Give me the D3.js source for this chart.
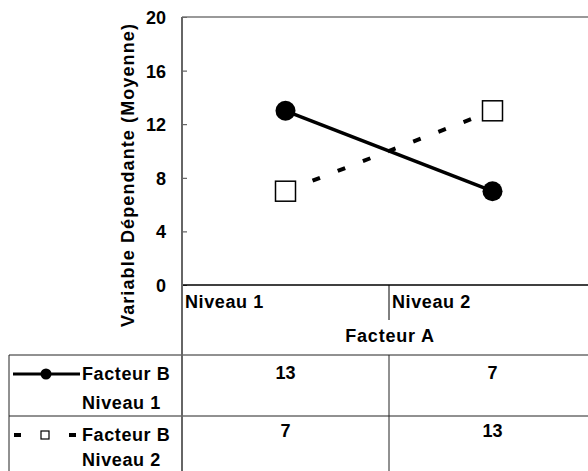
<!DOCTYPE html>
<html><head><meta charset="utf-8">
<script src="https://cdn.jsdelivr.net/npm/d3@7"></script>
<style>
html,body{margin:0;padding:0;background:#fff;}
svg{display:block;}
text{font-family:"Liberation Sans",Arial,sans-serif;font-weight:bold;fill:#000;}
</style></head>
<body>
<svg id="c" width="588" height="471"></svg>
<script>
const categories = ["Niveau 1", "Niveau 2"];
const seriesNames = ["Facteur B\nNiveau 1", "Facteur B\nNiveau 2"];
const serie1 = [13, 7];
const serie2 = [7, 13];
const yTicks = [0, 4, 8, 12, 16, 20];
const xTitle = "Facteur A";
const yTitle = "Variable Dépendante (Moyenne)";

const FS = 18;
const svg = d3.select("#c");
const L = 182, T = 17, B = 285, R = 596;
const x = d3.scaleBand().domain(categories).range([L, R]);
const y = d3.scaleLinear().domain([0, 20]).range([B, T]);
const cx = d => x(d) + x.bandwidth() / 2;

// y axis
const yAxis = d3.axisLeft(y).tickValues(yTicks).tickSize(-5).tickPadding(16).tickFormat(d3.format("d"));
const gy = svg.append("g").attr("transform", `translate(${L},0)`).call(yAxis);
gy.select(".domain").remove();
gy.selectAll(".tick line").attr("stroke", "#444").attr("stroke-width", 1);
gy.selectAll(".tick text").attr("font-size", FS).attr("font-family", "Liberation Sans, Arial, sans-serif")
  .attr("font-weight", "bold").attr("fill", "#000").attr("x", -16).attr("dy", "0.36em");

// frame lines
svg.append("line").attr("x1", L).attr("x2", 588).attr("y1", T).attr("y2", T).attr("stroke", "#777").attr("stroke-width", 1.5);
svg.append("line").attr("x1", L).attr("x2", 588).attr("y1", B).attr("y2", B).attr("stroke", "#000").attr("stroke-width", 1.5);
svg.append("line").attr("x1", x(categories[1])).attr("x2", x(categories[1])).attr("y1", B).attr("y2", 320).attr("stroke", "#000").attr("stroke-width", 1);

// y title
svg.append("text").attr("transform", "translate(134,175) rotate(-90)").attr("text-anchor", "middle")
  .attr("font-size", FS).style("letter-spacing", "1.1px").text(yTitle);

// category labels
svg.selectAll(".cat").data(categories).enter().append("text")
  .attr("x", d => x(d) + 3).attr("y", 308).attr("font-size", FS).style("letter-spacing", "0.6px").text(d => d);
svg.append("text").attr("x", (L + R) / 2 + 1).attr("y", 342).attr("text-anchor", "middle")
  .attr("font-size", FS).style("letter-spacing", "0.8px").text(xTitle);

// series lines
const line = d3.line().x((d, i) => cx(categories[i])).y(d => y(d));
svg.append("path").datum(serie2).attr("d", line).attr("fill", "none").attr("stroke", "#000")
  .attr("stroke-width", 4).attr("stroke-dasharray", "8,19").attr("stroke-dashoffset", -2);
svg.append("path").datum(serie1).attr("d", line).attr("fill", "none").attr("stroke", "#000").attr("stroke-width", 3.5);

svg.selectAll(".m1").data(serie1).enter().append("circle")
  .attr("cx", (d, i) => cx(categories[i])).attr("cy", d => y(d)).attr("r", 10).attr("fill", "#000");
svg.selectAll(".m2").data(serie2).enter().append("rect")
  .attr("x", (d, i) => cx(categories[i]) - 10).attr("y", d => y(d) - 10).attr("width", 20).attr("height", 20)
  .attr("fill", "#fff").attr("stroke", "#000").attr("stroke-width", 1.5);

// table grid
const tl = "#222";
svg.append("line").attr("x1", 9).attr("x2", 588).attr("y1", 355).attr("y2", 355).attr("stroke", tl).attr("stroke-width", 1);
svg.append("line").attr("x1", 9).attr("x2", 588).attr("y1", 416).attr("y2", 416).attr("stroke", tl).attr("stroke-width", 1);
svg.append("line").attr("x1", 9).attr("x2", 9).attr("y1", 355).attr("y2", 471).attr("stroke", tl).attr("stroke-width", 1);
svg.append("line").attr("x1", x(categories[1])).attr("x2", x(categories[1])).attr("y1", 355).attr("y2", 471).attr("stroke", tl).attr("stroke-width", 1);
// y axis line (continues through table)
svg.append("line").attr("x1", L).attr("x2", L).attr("y1", T).attr("y2", 471).attr("stroke", "#666").attr("stroke-width", 2);

// table values
const rows = [serie1, serie2];
const rowBase = [379, 437];
rows.forEach((vals, r) => {
  svg.selectAll(".v" + r).data(vals).enter().append("text")
    .attr("x", (d, i) => cx(categories[i])).attr("y", rowBase[r]).attr("text-anchor", "middle")
    .attr("font-size", FS).text(d => d);
});

// legend keys
svg.append("line").attr("x1", 13).attr("x2", 80).attr("y1", 374).attr("y2", 374).attr("stroke", "#000").attr("stroke-width", 3);
svg.append("circle").attr("cx", 46).attr("cy", 374).attr("r", 5.5).attr("fill", "#000");
svg.append("line").attr("x1", 14).attr("x2", 77).attr("y1", 435).attr("y2", 435).attr("stroke", "#000")
  .attr("stroke-width", 4).attr("stroke-dasharray", "7,48");
svg.append("rect").attr("x", 41).attr("y", 431).attr("width", 8).attr("height", 8).attr("fill", "#fff").attr("stroke", "#000").attr("stroke-width", 1.2);

const legBase = [[380, 409], [441, 466]];
seriesNames.forEach((n, r) => {
  n.split("\n").forEach((t, k) => {
    svg.append("text").attr("x", 82).attr("y", legBase[r][k]).attr("font-size", FS)
      .style("letter-spacing", "0.6px").text(t);
  });
});
</script>
</body></html>
